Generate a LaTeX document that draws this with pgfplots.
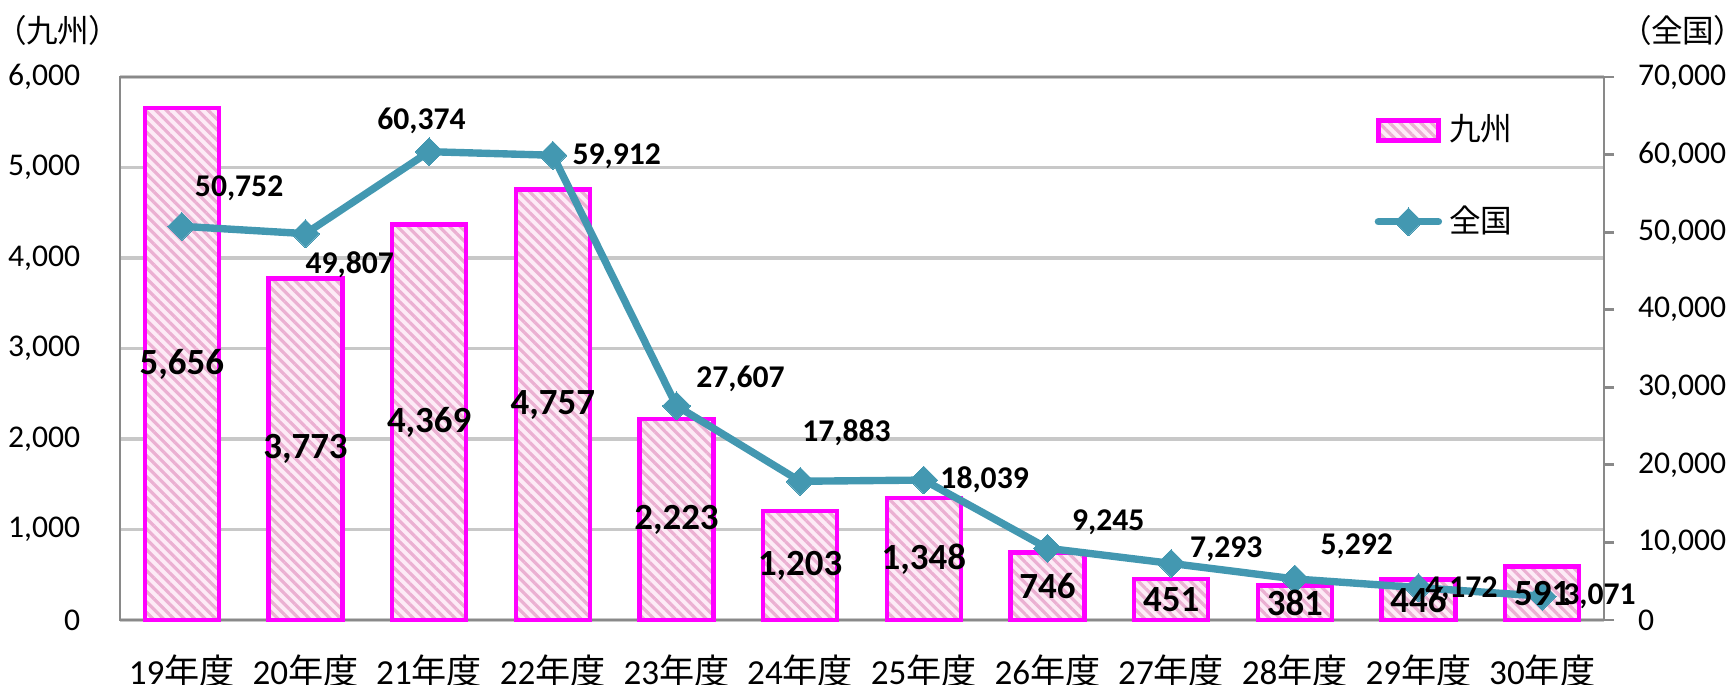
\documentclass[border=0pt]{standalone}
\usepackage{fontspec}
\setmainfont{Carlito}
\newfontfamily\jp{Noto Sans CJK JP}
\newfontfamily\jpp{Noto Sans CJK JP}[RawFeature=+palt]
\usepackage{pgfplots}
\usepackage{pgfplotstable}
\pgfplotsset{compat=1.18}
\usetikzlibrary{patterns.meta}
\definecolor{barpink}{HTML}{FF00FF}
\definecolor{stripe}{HTML}{EBB0D2}
\definecolor{stripebg}{HTML}{FDEBF6}
\definecolor{tealc}{HTML}{4398B1}
\definecolor{gridc}{HTML}{C8C8C8}
\definecolor{axc}{HTML}{898989}

\pgfplotstableread{
x ky zk dx dy
0 5656 50752 16.3 10.7
1 3773 49807 12.6 -8.8
2 4369 60374 -2.2 8.8
3 4757 59912 18.2 -0.3
4 2223 27607 18.2 7.8
5 1203 17883 13.2 13.8
6 1348 18039 17.3 0
7 746 9245 17.3 7.5
8 451 7293 15.7 4.1
9 381 5292 17.6 9.4
10 446 4172 12.2 -0.6
11 591 3071 16.3 0
}\data

\pgfplotsset{
  barsty/.style={draw=barpink, line width=1.3pt, preaction={fill=stripebg},
    pattern={Lines[angle=-45,distance=2.1pt,line width=0.9pt]}, pattern color=stripe},
  base/.style={scale only axis, width=14.84cm, height=5.43cm,
    xmin=-0.5, xmax=11.5, clip=false,
    /pgf/number format/1000 sep={,},
    /pgf/number format/assume math mode=true},
}

\begin{document}
\begin{tikzpicture}
\begin{axis}[
  base, ymin=0, ymax=6000,
  xtick={0,...,11},
  xticklabels={19{\jp 年度},20{\jp 年度},21{\jp 年度},22{\jp 年度},23{\jp 年度},24{\jp 年度},25{\jp 年度},26{\jp 年度},27{\jp 年度},28{\jp 年度},29{\jp 年度},30{\jp 年度}},
  ytick={0,1000,...,6000},
  ymajorgrids, grid style={gridc, line width=0.9pt},
  axis line style={axc, line width=0.8pt},
  tick style={draw=none},
  yticklabel style={font=\fontsize{9}{10}\selectfont, xshift=-7.8pt},
  xticklabel style={font=\fontsize{10}{12}\selectfont, yshift=-6.5pt, text depth=0pt},
]
\coordinate (O) at (rel axis cs:0,0);
\addplot[ybar, bar width=0.74cm, barsty] table[x=x,y=ky]{\data};
\node[font=\jpp\fontsize{9}{10}\selectfont, inner sep=0pt, text depth=0pt] at (axis description cs:-0.0418,1.088) {（九州）};
\node[font=\jpp\fontsize{9}{10}\selectfont, inner sep=0pt, text depth=0pt] at (axis description cs:1.0532,1.088) {（全国）};
\end{axis}
\begin{axis}[
  base, ymin=0, ymax=70000,
  axis y line*=right, axis x line=none,
  ytick={0,10000,...,70000},
  scaled y ticks=false,
  axis line style={axc, line width=0.8pt},
  tick align=outside, major tick length=0.1cm,
  ytick style={axc, line width=0.8pt},
  yticklabel style={font=\fontsize{9}{10}\selectfont, xshift=3.3pt},
  legend style={draw=none, fill=none, at={(0.845,0.945)}, anchor=north west,
    font=\jp\fontsize{9}{10}\selectfont, row sep=13pt, inner sep=0pt},
  legend cell align=left,
]
\addlegendimage{area legend, barsty}
\addlegendentry{九州}
\addplot[tealc, line width=2.1pt, line cap=round, line join=round,
  mark=square*, mark size=2.8pt, mark options={rotate=45, solid, fill=tealc, line width=0pt}]
  table[x=x,y=zk]{\data};
\addlegendentry{全国}
\end{axis}
\begin{axis}[base, ymin=0, ymax=6000, hide axis]
\addplot[draw=none, mark=none,
  nodes near coords,
  visualization depends on={rawy \as \ry},
  every node near coord/.append style={anchor=center, yshift=-\ry*0.012875,
    font=\bfseries\fontsize{10.5}{12}\selectfont, text=black}]
  table[x=x,y=ky]{\data};
\end{axis}
\begin{axis}[base, ymin=0, ymax=70000, hide axis]
\addplot[draw=none, mark=none,
  nodes near coords,
  visualization depends on={\thisrow{dx} \as \lblx},
  visualization depends on={\thisrow{dy} \as \lbly},
  every node near coord/.append style={anchor=center, xshift=\lblx, yshift=\lbly,
    font=\bfseries\fontsize{9}{10}\selectfont, text=black}]
  table[x=x,y=zk]{\data};
\end{axis}
\pgfresetboundingbox
\path[use as bounding box] (O) ++(-1.2cm,-0.65cm) rectangle ++(17.3cm,6.85cm);
\end{tikzpicture}
\end{document}
